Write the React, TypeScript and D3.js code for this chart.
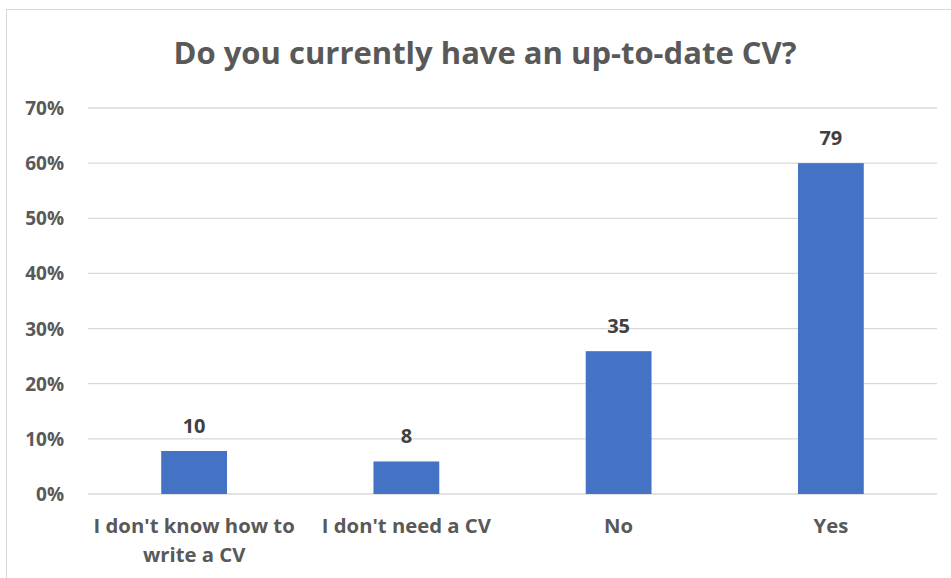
import React from 'react';
import * as d3 from 'd3';

const categories = ["I don't know how to write a CV", "I don't need a CV", 'No', 'Yes'];
const counts = [10, 8, 35, 79];
const percents = [7.8, 5.9, 25.9, 60.0];
const tickValues = [0, 10, 20, 30, 40, 50, 60, 70];

const labelLines: Record<string, string[]> = {
    "I don't know how to write a CV": ["I don't know how to", 'write a CV'],
};

const W = 951;
const H = 578;
const margin = { top: 108, right: 14, bottom: 84, left: 88 };
const FONT = '"Open Sans", sans-serif';

const App = () => {
    const x = d3.scaleBand()
        .domain(categories)
        .range([margin.left, W - margin.right])
        .paddingInner(0.69)
        .paddingOuter(0.345);

    const y = d3.scaleLinear()
        .domain([0, 70])
        .range([H - margin.bottom, margin.top]);

    return (
        <svg
            width={W}
            height={H}
            style={{ position: 'absolute', left: 0, top: 0, background: '#fff' }}
        >
            <rect x={6.5} y={9.5} width={W + 10} height={H + 10} fill="#fff" stroke="#d9d9d9" />

            <text
                x={485}
                y={64}
                textAnchor="middle"
                fill="#595959"
                style={{ fontFamily: FONT, fontWeight: 700, fontSize: 31 }}
            >
                Do you currently have an up-to-date CV?
            </text>

            {/* gridlines + y ticks */}
            {tickValues.map(t => (
                <g key={t}>
                    <line
                        x1={margin.left}
                        x2={W - margin.right}
                        y1={y(t)}
                        y2={y(t)}
                        stroke="#d9d9d9"
                        strokeWidth={1.3}
                    />
                    <text
                        x={64}
                        y={y(t) + 7}
                        textAnchor="end"
                        fill="#595959"
                        style={{ fontFamily: FONT, fontWeight: 700, fontSize: 19 }}
                    >
                        {t}%
                    </text>
                </g>
            ))}

            {/* bars */}
            {categories.map((c, i) => (
                <rect
                    key={c}
                    x={x(c)}
                    y={y(percents[i])}
                    width={x.bandwidth()}
                    height={y(0) - y(percents[i])}
                    fill="#4472c4"
                />
            ))}

            {/* data labels */}
            {categories.map((c, i) => (
                <text
                    key={c}
                    x={(x(c) || 0) + x.bandwidth() / 2}
                    y={y(percents[i]) - 18}
                    textAnchor="middle"
                    fill="#404040"
                    style={{ fontFamily: FONT, fontWeight: 700, fontSize: 20 }}
                >
                    {counts[i]}
                </text>
            ))}

            {/* category labels */}
            {categories.map(c => {
                const lines = labelLines[c] || [c];
                return (
                    <text
                        key={c}
                        textAnchor="middle"
                        fill="#595959"
                        style={{ fontFamily: FONT, fontWeight: 700, fontSize: 20.3 }}
                    >
                        {lines.map((ln, j) => (
                            <tspan key={j} x={(x(c) || 0) + x.bandwidth() / 2} y={533 + j * 29}>
                                {ln}
                            </tspan>
                        ))}
                    </text>
                );
            })}
        </svg>
    );
};

export default App;
